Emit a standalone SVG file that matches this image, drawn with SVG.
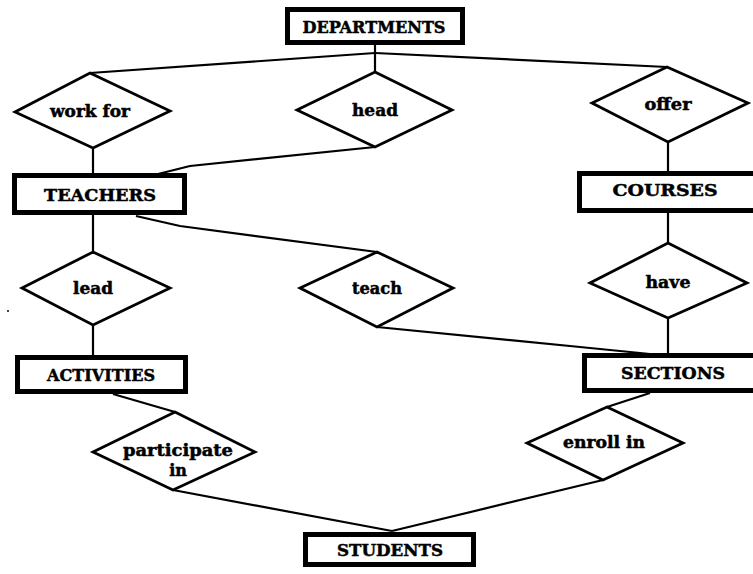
<svg xmlns="http://www.w3.org/2000/svg" width="753" height="574" viewBox="0 0 753 574">
<style>
.ent{fill:#fff;stroke:#000;stroke-width:5}
.rel{fill:#fff;stroke:#000;stroke-width:2.8;stroke-linejoin:miter}
.ln{fill:none;stroke:#000;stroke-width:2.2;stroke-linejoin:round}
text{font-family:"DejaVu Serif","Liberation Serif",serif;font-weight:bold;fill:#000;stroke:#000;stroke-width:0.5;text-anchor:middle}
.et{font-size:17px}
.rt{font-size:16px}
</style>
<rect width="753" height="574" fill="#fff"/>
<g id="connectors">
<line class="ln" x1="375" y1="44" x2="375" y2="72"/>
<line class="ln" x1="375" y1="53" x2="90" y2="73"/>
<line class="ln" x1="375" y1="53" x2="667" y2="67"/>
<line class="ln" x1="93" y1="148" x2="93" y2="174"/>
<polyline class="ln" points="375,147 190,166 158,174"/>
<line class="ln" x1="93" y1="215" x2="93" y2="252"/>
<polyline class="ln" points="136,216 180,226 377,252"/>
<line class="ln" x1="93" y1="325" x2="93" y2="355"/>
<line class="ln" x1="113" y1="394" x2="175" y2="412"/>
<line class="ln" x1="173" y1="490" x2="392" y2="531"/>
<line class="ln" x1="668" y1="142" x2="668" y2="172"/>
<line class="ln" x1="668" y1="213" x2="668" y2="243"/>
<line class="ln" x1="668" y1="318" x2="668" y2="354"/>
<polyline class="ln" points="377,327 580,347 650,354"/>
<line class="ln" x1="650" y1="393" x2="607" y2="407"/>
<line class="ln" x1="603" y1="480" x2="392" y2="531"/>
</g>
<g id="departments"><rect class="ent" x="287.5" y="9.5" width="175" height="33"/><text class="et" x="374" y="33" textLength="143" lengthAdjust="spacingAndGlyphs">DEPARTMENTS</text></g>
<g id="work_for"><polygon class="rel" points="90,73 170,111 93,148 15,112"/><text class="rt" x="90" y="117" textLength="80" lengthAdjust="spacingAndGlyphs">work for</text></g>
<g id="head"><polygon class="rel" points="375,72 452,110 375,147 297,110"/><text class="rt" x="375" y="116" textLength="46" lengthAdjust="spacingAndGlyphs">head</text></g>
<g id="offer"><polygon class="rel" points="667,67 748,103 668,142 592,103"/><text class="rt" x="668" y="110" textLength="47" lengthAdjust="spacingAndGlyphs">offer</text></g>
<g id="teachers"><rect class="ent" x="14.5" y="175.5" width="170" height="37"/><text class="et" x="100" y="201" textLength="112" lengthAdjust="spacingAndGlyphs">TEACHERS</text></g>
<g id="courses"><rect class="ent" x="579.5" y="173.5" width="180" height="37"/><text class="et" x="665" y="196" textLength="105" lengthAdjust="spacingAndGlyphs">COURSES</text></g>
<g id="lead"><polygon class="rel" points="93,252 170,288 93,325 22,288"/><text class="rt" x="93" y="294" textLength="40" lengthAdjust="spacingAndGlyphs">lead</text></g>
<g id="teach"><polygon class="rel" points="377,252 453,288 377,327 300,288"/><text class="rt" x="377" y="294" textLength="50" lengthAdjust="spacingAndGlyphs">teach</text></g>
<g id="have"><polygon class="rel" points="668,243 747,283 668,318 590,283"/><text class="rt" x="668" y="288" textLength="45" lengthAdjust="spacingAndGlyphs">have</text></g>
<g id="activities"><rect class="ent" x="17.5" y="357.5" width="168" height="34"/><text class="et" x="101" y="381" textLength="108" lengthAdjust="spacingAndGlyphs">ACTIVITIES</text></g>
<g id="sections"><rect class="ent" x="584.5" y="355.5" width="175" height="35"/><text class="et" x="673" y="379" textLength="104" lengthAdjust="spacingAndGlyphs">SECTIONS</text></g>
<g id="participate_in"><polygon class="rel" points="175,412 255,452 173,490 93,452"/><text class="rt" x="178" y="456" textLength="110" lengthAdjust="spacingAndGlyphs">participate</text><text class="rt" x="178" y="476">in</text></g>
<g id="enroll_in"><polygon class="rel" points="607,407 683,443 603,480 527,443"/><text class="rt" x="604" y="448" textLength="82" lengthAdjust="spacingAndGlyphs">enroll in</text></g>
<g id="students"><rect class="ent" x="305.5" y="534.5" width="168" height="30"/><text class="et" x="390" y="556" textLength="106" lengthAdjust="spacingAndGlyphs">STUDENTS</text></g>
<circle cx="8" cy="311" r="1" fill="#000"/>
</svg>
